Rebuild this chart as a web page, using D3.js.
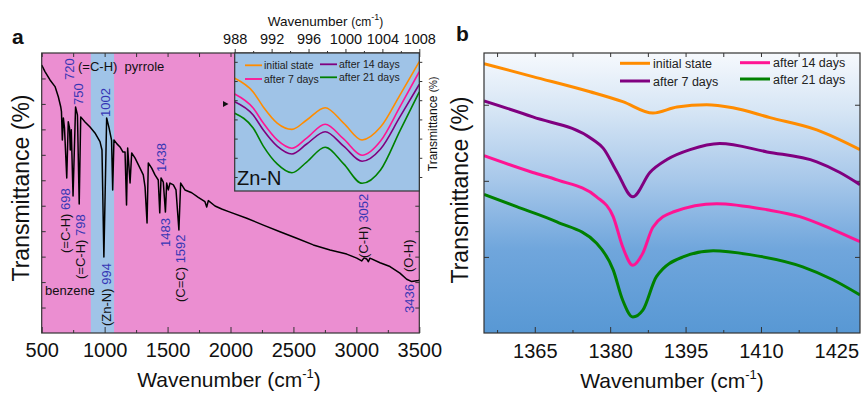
<!DOCTYPE html>
<html><head><meta charset="utf-8">
<script src="https://cdn.jsdelivr.net/npm/d3@7"></script>
<style>body{margin:0;background:#fff}svg{display:block;font-family:"Liberation Sans",Arial,Helvetica,sans-serif}</style>
</head><body><svg id="c" width="861" height="394"></svg>
<script>
// ---------- DATA ----------
// Panel a: FTIR spectrum (wavenumber, transmittance in arbitrary units)
const specWavenumber = [500,526,566,606,632,651,657,664,672,681,699,711,721,727,735,749,769,784,798,810,844,884,923,963,979,994,1016,1035,1055,1064,1074,1098,1122,1146,1162,1174,1183,1202,1215,1241,1281,1307,1321,1337,1347,1374,1400,1426,1438,1448,1466,1483,1493,1506,1519,1546,1567,1590,1604,1638,1692,1744,1797,1811,1824,1877,1930,1996,2129,2261,2393,2526,2658,2791,2923,3003,3042,3061,3082,3095,3108,3188,3267,3346,3400,3440,3492,3500];
const specTransmittance = [10.53,10.27,9.94,9.68,9.28,8.89,8.70,7.58,8.45,8.06,6.09,8.30,8.06,7.19,7.98,5.38,8.88,8.57,5.07,8.49,8.29,8.09,7.86,7.52,7.19,2.99,8.45,8.06,7.58,5.62,7.58,7.43,7.31,7.11,7.11,5.03,7.27,5.89,7.07,6.88,6.48,6.21,5.74,4.32,6.68,6.48,6.21,6.01,4.72,6.09,5.93,4.75,5.89,5.62,5.89,5.82,5.62,4.05,5.89,5.62,5.51,5.33,5.16,4.95,5.20,4.99,4.87,4.75,4.51,4.24,3.98,3.72,3.46,3.26,3.10,2.94,2.83,2.95,2.91,2.80,2.94,2.76,2.61,2.35,2.11,2.02,2.06,2.07];
const bottomTicksA = [500,1000,1500,2000,2500,3000,3500];
const zincBand = [890, 1075];

// Inset (Zn-N region)
const insetWavenumber = [988,990,991.1,992.6,994.2,995.8,997.8,999.8,1001.8,1003.8,1005.9,1008];
const insetInitial = [6.14,5.43,4.65,3.81,3.48,3.97,4.61,3.81,2.93,3.60,5.27,7.01];
const insetDay7    = [5.32,4.59,3.81,2.93,2.50,3.03,3.75,2.98,2.13,2.87,4.65,6.49];
const insetDay14   = [4.92,4.23,3.45,2.61,2.20,2.72,3.36,2.61,1.82,2.46,4.13,5.83];
const insetDay21   = [4.32,3.55,2.61,1.68,1.22,1.78,2.55,1.68,0.67,1.36,3.40,5.44];
const insetTicks = [988,992,996,1000,1004,1008];
const insetLegend = ["initial state","after 7 days","after 14 days","after 21 days"];

// Panel b
const bInitialWn = [1354.9,1364.6,1376.0,1382.5,1388.5,1393.3,1399.2,1404.4,1411.8,1421.1,1429.7];
const bInitialT  = [3.54,3.37,3.17,3.04,2.89,2.97,3.00,2.96,2.83,2.67,2.41];
const bDay7Wn = [1354.9,1364.6,1376.6,1378.6,1381.4,1384.5,1387.9,1391.3,1395.9,1401.8,1411.2,1421.1,1425.7,1429.7];
const bDay7T  = [3.05,2.84,2.54,2.43,2.11,1.79,2.11,2.28,2.41,2.49,2.38,2.25,2.11,1.95];
const bDay14Wn = [1354.9,1364.6,1369.6,1377.3,1380.6,1382.5,1384.5,1386.5,1388.5,1392.5,1401.2,1411.2,1417.7,1424.3,1429.7];
const bDay14T  = [2.33,2.11,2.01,1.79,1.53,1.13,0.89,1.05,1.39,1.59,1.70,1.62,1.53,1.36,1.20];
const bDay21Wn = [1354.9,1361.4,1369.4,1377.3,1380.6,1382.5,1384.5,1386.5,1389.2,1394.5,1400.5,1407.8,1418.3,1424.3,1429.7];
const bDay21T  = [1.82,1.66,1.46,1.18,0.83,0.43,0.21,0.30,0.74,1.00,1.08,1.03,0.87,0.70,0.50];
const bTicks = [1365,1380,1395,1410,1425];
const bLegend = ["initial state","after 7 days","after 14 days","after 21 days"];

// ---------- DRAW ----------
const svg = d3.select("#c");
const FONT = '"Liberation Sans",Arial,Helvetica,sans-serif';
const C = {orange:"#ff8c00", pink:"#ff1493", purple:"#800080", green:"#008000", blueTxt:"#3636b4"};

// ===== Panel a =====
const A = {l:41.7, r:419.3, t:53, b:333};
const xA = d3.scaleLinear([500,3500],[A.l,A.r]);
const yA = d3.scaleLinear([0,11],[A.b,A.t]);
const gA = svg.append("g");
gA.append("rect").attr("x",A.l).attr("y",A.t).attr("width",A.r-A.l).attr("height",A.b-A.t).attr("fill","#eb8ed1");
gA.append("rect").attr("x",xA(zincBand[0])).attr("y",A.t).attr("width",xA(zincBand[1])-xA(zincBand[0])).attr("height",A.b-A.t).attr("fill","#a0c4e8");

function styleAxis(g){ g.selectAll(".domain").remove(); g.selectAll("line").attr("stroke","#333").attr("stroke-width",1);
  g.selectAll("text").attr("font-family",FONT).attr("fill","#111"); }
const axB = gA.append("g").attr("transform",`translate(0,${A.b})`)
  .call(d3.axisBottom(xA).tickValues(bottomTicksA).tickSize(-6).tickPadding(10).tickFormat(d3.format("d")));
styleAxis(axB); axB.selectAll("text").attr("font-size",20);
const axBm = gA.append("g").attr("transform",`translate(0,${A.b})`)
  .call(d3.axisBottom(xA).tickValues(d3.range(750,3500,500)).tickSize(-3).tickFormat(""));
styleAxis(axBm);
const axT = gA.append("g").attr("transform",`translate(0,${A.t})`)
  .call(d3.axisTop(xA).tickValues(d3.range(500,3501,250)).tickSize(-4).tickFormat(""));
styleAxis(axT);
const axL = gA.append("g").attr("transform",`translate(${A.l},0)`)
  .call(d3.axisLeft(yA).tickValues(d3.range(1,11)).tickSize(-4).tickFormat(""));
styleAxis(axL);
const axR = gA.append("g").attr("transform",`translate(${A.r},0)`)
  .call(d3.axisRight(yA).tickValues(d3.range(1,11)).tickSize(-4).tickFormat(""));
styleAxis(axR);

const spec = specWavenumber.map((w,i)=>[w,specTransmittance[i]]);
gA.append("path").datum(spec).attr("fill","none").attr("stroke","#000").attr("stroke-width",1.5)
  .attr("stroke-linejoin","round")
  .attr("d",d3.line().x(d=>xA(d[0])).y(d=>yA(d[1])));

gA.append("rect").attr("x",A.l).attr("y",A.t).attr("width",A.r-A.l).attr("height",A.b-A.t)
  .attr("fill","none").attr("stroke","#333").attr("stroke-width",1.2);

function rot(x, yBottom, parts){
  const t = gA.append("text").attr("transform",`translate(${x},${yBottom}) rotate(-90)`)
    .attr("font-size",13).attr("font-family",FONT).attr("dominant-baseline","central");
  parts.forEach(p=>t.append("tspan").attr("fill",p[1]).text(p[0]));
}
rot(xA(720),80,[["720",C.blueTxt]]);
rot(xA(750)+4.5,105,[["750",C.blueTxt]]);
rot(xA(1002),117,[["1002",C.blueTxt]]);
rot(xA(1438)+1,172,[["1438",C.blueTxt]]);
rot(xA(698)-1.5,253,[["(=C-H) ","#111"],["698",C.blueTxt]]);
rot(xA(798)+0.8,279,[["(=C-H) ","#111"],["798",C.blueTxt]]);
rot(xA(994)+2,326,[["(Zn-N) ","#111"],["994",C.blueTxt]]);
rot(xA(1483),247,[["1483",C.blueTxt]]);
rot(xA(1592)+0.8,302,[["(C=C) ","#111"],["1592",C.blueTxt]]);
rot(xA(3052),258,[["(C-H) ","#111"],["3052",C.blueTxt]]);
rot(408,272,[["(O-H)","#111"]]);
rot(409,313,[["3436",C.blueTxt]]);
gA.append("text").attr("x",78).attr("y",71).attr("font-size",13).attr("fill","#111").attr("font-family",FONT)
  .attr("xml:space","preserve").text("(=C-H)  pyrrole");
gA.append("text").attr("x",45).attr("y",295).attr("font-size",13).attr("fill","#111").attr("font-family",FONT).text("benzene");

gA.append("text").attr("transform","translate(21,188) rotate(-90)").attr("text-anchor","middle")
  .attr("dominant-baseline","central").attr("font-size",23).attr("fill","#111").text("Transmittance (%)");
const xtA = gA.append("text").attr("x",229).attr("y",387).attr("text-anchor","middle").attr("font-size",21).attr("fill","#111");
xtA.append("tspan").text("Wavenumber (cm");
xtA.append("tspan").attr("font-size",13).attr("dy",-9).text("-1");
xtA.append("tspan").attr("dy",9).text(")");
gA.append("text").attr("x",12).attr("y",44).attr("font-size",21).attr("font-weight","bold").attr("fill","#111").text("a");

// ===== Inset =====
const I = {l:234.7, r:419.3, t:53, b:191};
const xI = d3.scaleLinear([988,1008],[I.l,I.r]);
const yI = d3.scaleLinear([0.27,7.46],[I.b,I.t]);
const gI = svg.append("g");
gI.append("rect").attr("x",I.l).attr("y",I.t).attr("width",I.r-I.l).attr("height",I.b-I.t).attr("fill","#9fc3e7");
const iTop = gI.append("g").attr("transform",`translate(0,${I.t})`)
  .call(d3.axisTop(xI).tickValues(insetTicks).tickSize(4).tickPadding(5).tickFormat(d3.format("d")));
styleAxis(iTop); iTop.selectAll("text").attr("font-size",14.5);
const iTopm = gI.append("g").attr("transform",`translate(0,${I.t})`)
  .call(d3.axisTop(xI).tickValues(d3.range(990,1008,4)).tickSize(2).tickFormat(""));
styleAxis(iTopm);
const iR = gI.append("g").attr("transform",`translate(${I.r},0)`)
  .call(d3.axisRight(yI).tickValues(d3.range(1,8)).tickSize(3).tickFormat(""));
styleAxis(iR);
const iL = gI.append("g").attr("transform",`translate(${I.l},0)`)
  .call(d3.axisLeft(yI).tickValues(d3.range(1,8)).tickSize(-3).tickFormat(""));
styleAxis(iL);
const insetSeries = [[insetInitial,C.orange],[insetDay7,C.pink],[insetDay14,C.purple],[insetDay21,C.green]];
const lineI = d3.line().x(d=>xI(d[0])).y(d=>yI(d[1])).curve(d3.curveMonotoneX);
insetSeries.forEach(([vals,col])=>{
  gI.append("path").datum(insetWavenumber.map((w,i)=>[w,vals[i]]))
    .attr("fill","none").attr("stroke",col).attr("stroke-width",1.6).attr("d",lineI);
});
gI.append("rect").attr("x",I.l).attr("y",I.t).attr("width",I.r-I.l).attr("height",I.b-I.t)
  .attr("fill","none").attr("stroke","#333").attr("stroke-width",1.2);
const iLeg = [[245,65.3,C.orange,insetLegend[0]],[245,79,C.pink,insetLegend[1]],[320,64.3,C.purple,insetLegend[2]],[320,77.3,C.green,insetLegend[3]]];
iLeg.forEach(([x,y,col,t])=>{
  gI.append("line").attr("x1",x).attr("x2",x+17).attr("y1",y).attr("y2",y).attr("stroke",col).attr("stroke-width",1.8);
  gI.append("text").attr("x",x+19).attr("y",y+3.8).attr("font-size",10.5).attr("fill","#222").text(t);
});
gI.append("text").attr("x",237).attr("y",184.5).attr("font-size",20).attr("fill","#111").text("Zn-N");
const itT = gI.append("text").attr("x",325.5).attr("y",26).attr("text-anchor","middle").attr("font-size",13.5).attr("fill","#111");
itT.append("tspan").text("Wavenumber ");
itT.append("tspan").attr("font-size",12).text("(cm");
itT.append("tspan").attr("font-size",9).attr("dy",-6).text("-1");
itT.append("tspan").attr("font-size",12).attr("dy",6).text(")");
const irT = gI.append("text").attr("transform","translate(433,124) rotate(-90)").attr("text-anchor","middle")
  .attr("dominant-baseline","central").attr("font-size",12).attr("fill","#111");
irT.append("tspan").text("Transmittance ");
irT.append("tspan").attr("font-size",10).text("(%)");
gI.append("path").attr("d","M223,101L228.5,104L223,107Z").attr("fill","#111");

// ===== Panel b =====
const B = {l:484, r:860, t:53, b:333};
const xB = d3.scaleLinear([1354.9,1429.7],[B.l,B.r]);
const yB = d3.scaleLinear([0,3.68],[B.b,B.t]);
const gB = svg.append("g");
const defs = svg.append("defs");
const grad = defs.append("linearGradient").attr("id","gb").attr("x1",0).attr("y1",0).attr("x2",0).attr("y2",1);
[[0,"#f6f9fd"],[0.2,"#d7e6f5"],[0.45,"#a8c8ea"],[0.7,"#70a6dc"],[1,"#5898d4"]].forEach(([o,c])=>grad.append("stop").attr("offset",o).attr("stop-color",c));
defs.append("clipPath").attr("id","cb").append("rect").attr("x",B.l).attr("y",B.t).attr("width",B.r-B.l).attr("height",B.b-B.t);
gB.append("rect").attr("x",B.l).attr("y",B.t).attr("width",B.r-B.l).attr("height",B.b-B.t).attr("fill","url(#gb)");
const bB = gB.append("g").attr("transform",`translate(0,${B.b})`)
  .call(d3.axisBottom(xB).tickValues(bTicks).tickSize(-6).tickPadding(11).tickFormat(d3.format("d")));
styleAxis(bB); bB.selectAll("text").attr("font-size",20);
const bBm = gB.append("g").attr("transform",`translate(0,${B.b})`)
  .call(d3.axisBottom(xB).tickValues(d3.range(1357.5,1430,15)).tickSize(-3).tickFormat(""));
styleAxis(bBm);
const bT = gB.append("g").attr("transform",`translate(0,${B.t})`)
  .call(d3.axisTop(xB).tickValues(d3.range(1357.5,1430,7.5)).tickSize(-4).tickFormat(""));
styleAxis(bT);
const bL = gB.append("g").attr("transform",`translate(${B.l},0)`)
  .call(d3.axisLeft(yB).tickValues([1,2,3]).tickSize(-5).tickFormat(""));
styleAxis(bL);
const bR = gB.append("g").attr("transform",`translate(${B.r},0)`)
  .call(d3.axisRight(yB).tickValues([1,2,3]).tickSize(-5).tickFormat(""));
styleAxis(bR);
const lineB = d3.line().x(d=>xB(d[0])).y(d=>yB(d[1])).curve(d3.curveMonotoneX);
const bSeries = [[bInitialWn,bInitialT,C.orange],[bDay7Wn,bDay7T,C.purple],[bDay14Wn,bDay14T,C.pink],[bDay21Wn,bDay21T,C.green]];
bSeries.forEach(([ws,ts,col])=>{
  gB.append("path").datum(ws.map((w,i)=>[w,ts[i]])).attr("clip-path","url(#cb)")
    .attr("fill","none").attr("stroke",col).attr("stroke-width",3).attr("stroke-linejoin","round").attr("d",lineB);
});
gB.append("rect").attr("x",B.l).attr("y",B.t).attr("width",B.r-B.l).attr("height",B.b-B.t)
  .attr("fill","none").attr("stroke","#333").attr("stroke-width",1.2);
const bLeg = [[620,63.3,C.orange,bLegend[0]],[620,81,C.purple,bLegend[1]],[740,62.7,C.pink,bLegend[2]],[740,79,C.green,bLegend[3]]];
bLeg.forEach(([x,y,col,t])=>{
  gB.append("line").attr("x1",x).attr("x2",x+30).attr("y1",y).attr("y2",y).attr("stroke",col).attr("stroke-width",3);
  gB.append("text").attr("x",x+33).attr("y",y+4.5).attr("font-size",12.5).attr("fill","#222").text(t);
});
gB.append("text").attr("transform","translate(460,190) rotate(-90)").attr("text-anchor","middle")
  .attr("dominant-baseline","central").attr("font-size",23).attr("fill","#111").text("Transmittance (%)");
const xtB = gB.append("text").attr("x",672).attr("y",388).attr("text-anchor","middle").attr("font-size",21).attr("fill","#111");
xtB.append("tspan").text("Wavenumber (cm");
xtB.append("tspan").attr("font-size",13).attr("dy",-9).text("-1");
xtB.append("tspan").attr("dy",9).text(")");
gB.append("text").attr("x",456).attr("y",41).attr("font-size",21).attr("font-weight","bold").attr("fill","#111").text("b");
</script></body></html>
